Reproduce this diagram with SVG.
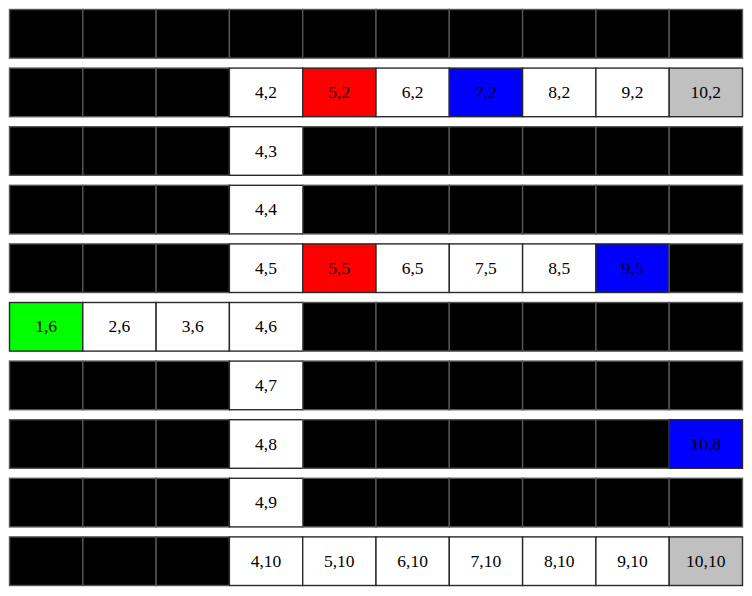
<svg xmlns="http://www.w3.org/2000/svg" width="752" height="596" viewBox="0 0 752 596">
<style>
rect{stroke-width:1.4}
.k{fill:#000;stroke:#555}
.w{fill:#fff;stroke:#2a2a2a}
.r{fill:#f00;stroke:#2a2a2a}
.b{fill:#00f;stroke:#2a2a2a}
.g{fill:#c0c0c0;stroke:#2a2a2a}
.l{fill:#0f0;stroke:#2a2a2a}
text{font-family:"Liberation Serif",serif;font-size:17.5px;text-anchor:middle;fill:#000}
</style>
<rect x="0" y="0" width="752" height="596" fill="#fff" stroke="none"/>
<g id="row1">
<g id="c1_1"><rect class="k" x="9.5" y="9.5" width="73.3" height="48.6"/></g>
<g id="c2_1"><rect class="k" x="82.8" y="9.5" width="73.3" height="48.6"/></g>
<g id="c3_1"><rect class="k" x="156.1" y="9.5" width="73.3" height="48.6"/></g>
<g id="c4_1"><rect class="k" x="229.4" y="9.5" width="73.3" height="48.6"/></g>
<g id="c5_1"><rect class="k" x="302.7" y="9.5" width="73.3" height="48.6"/></g>
<g id="c6_1"><rect class="k" x="376" y="9.5" width="73.3" height="48.6"/></g>
<g id="c7_1"><rect class="k" x="449.3" y="9.5" width="73.3" height="48.6"/></g>
<g id="c8_1"><rect class="k" x="522.6" y="9.5" width="73.3" height="48.6"/></g>
<g id="c9_1"><rect class="k" x="595.9" y="9.5" width="73.3" height="48.6"/></g>
<g id="c10_1"><rect class="k" x="669.2" y="9.5" width="73.3" height="48.6"/></g>
</g>
<g id="row2">
<g id="c1_2"><rect class="k" x="9.5" y="68.1" width="73.3" height="48.6"/></g>
<g id="c2_2"><rect class="k" x="82.8" y="68.1" width="73.3" height="48.6"/></g>
<g id="c3_2"><rect class="k" x="156.1" y="68.1" width="73.3" height="48.6"/></g>
<g id="c4_2"><rect class="w" x="229.4" y="68.1" width="73.3" height="48.6"/><text x="266" y="98">4,2</text></g>
<g id="c5_2"><rect class="r" x="302.7" y="68.1" width="73.3" height="48.6"/><text x="339.3" y="98">5,2</text></g>
<g id="c6_2"><rect class="w" x="376" y="68.1" width="73.3" height="48.6"/><text x="412.6" y="98">6,2</text></g>
<g id="c7_2"><rect class="b" x="449.3" y="68.1" width="73.3" height="48.6"/><text x="485.9" y="98">7,2</text></g>
<g id="c8_2"><rect class="w" x="522.6" y="68.1" width="73.3" height="48.6"/><text x="559.2" y="98">8,2</text></g>
<g id="c9_2"><rect class="w" x="595.9" y="68.1" width="73.3" height="48.6"/><text x="632.5" y="98">9,2</text></g>
<g id="c10_2"><rect class="g" x="669.2" y="68.1" width="73.3" height="48.6"/><text x="705.8" y="98">10,2</text></g>
</g>
<g id="row3">
<g id="c1_3"><rect class="k" x="9.5" y="126.7" width="73.3" height="48.6"/></g>
<g id="c2_3"><rect class="k" x="82.8" y="126.7" width="73.3" height="48.6"/></g>
<g id="c3_3"><rect class="k" x="156.1" y="126.7" width="73.3" height="48.6"/></g>
<g id="c4_3"><rect class="w" x="229.4" y="126.7" width="73.3" height="48.6"/><text x="266" y="156.6">4,3</text></g>
<g id="c5_3"><rect class="k" x="302.7" y="126.7" width="73.3" height="48.6"/></g>
<g id="c6_3"><rect class="k" x="376" y="126.7" width="73.3" height="48.6"/></g>
<g id="c7_3"><rect class="k" x="449.3" y="126.7" width="73.3" height="48.6"/></g>
<g id="c8_3"><rect class="k" x="522.6" y="126.7" width="73.3" height="48.6"/></g>
<g id="c9_3"><rect class="k" x="595.9" y="126.7" width="73.3" height="48.6"/></g>
<g id="c10_3"><rect class="k" x="669.2" y="126.7" width="73.3" height="48.6"/></g>
</g>
<g id="row4">
<g id="c1_4"><rect class="k" x="9.5" y="185.3" width="73.3" height="48.6"/></g>
<g id="c2_4"><rect class="k" x="82.8" y="185.3" width="73.3" height="48.6"/></g>
<g id="c3_4"><rect class="k" x="156.1" y="185.3" width="73.3" height="48.6"/></g>
<g id="c4_4"><rect class="w" x="229.4" y="185.3" width="73.3" height="48.6"/><text x="266" y="215.2">4,4</text></g>
<g id="c5_4"><rect class="k" x="302.7" y="185.3" width="73.3" height="48.6"/></g>
<g id="c6_4"><rect class="k" x="376" y="185.3" width="73.3" height="48.6"/></g>
<g id="c7_4"><rect class="k" x="449.3" y="185.3" width="73.3" height="48.6"/></g>
<g id="c8_4"><rect class="k" x="522.6" y="185.3" width="73.3" height="48.6"/></g>
<g id="c9_4"><rect class="k" x="595.9" y="185.3" width="73.3" height="48.6"/></g>
<g id="c10_4"><rect class="k" x="669.2" y="185.3" width="73.3" height="48.6"/></g>
</g>
<g id="row5">
<g id="c1_5"><rect class="k" x="9.5" y="243.9" width="73.3" height="48.6"/></g>
<g id="c2_5"><rect class="k" x="82.8" y="243.9" width="73.3" height="48.6"/></g>
<g id="c3_5"><rect class="k" x="156.1" y="243.9" width="73.3" height="48.6"/></g>
<g id="c4_5"><rect class="w" x="229.4" y="243.9" width="73.3" height="48.6"/><text x="266" y="273.8">4,5</text></g>
<g id="c5_5"><rect class="r" x="302.7" y="243.9" width="73.3" height="48.6"/><text x="339.3" y="273.8">5,5</text></g>
<g id="c6_5"><rect class="w" x="376" y="243.9" width="73.3" height="48.6"/><text x="412.6" y="273.8">6,5</text></g>
<g id="c7_5"><rect class="w" x="449.3" y="243.9" width="73.3" height="48.6"/><text x="485.9" y="273.8">7,5</text></g>
<g id="c8_5"><rect class="w" x="522.6" y="243.9" width="73.3" height="48.6"/><text x="559.2" y="273.8">8,5</text></g>
<g id="c9_5"><rect class="b" x="595.9" y="243.9" width="73.3" height="48.6"/><text x="632.5" y="273.8">9,5</text></g>
<g id="c10_5"><rect class="k" x="669.2" y="243.9" width="73.3" height="48.6"/></g>
</g>
<g id="row6">
<g id="c1_6"><rect class="l" x="9.5" y="302.5" width="73.3" height="48.6"/><text x="46.1" y="332.4">1,6</text></g>
<g id="c2_6"><rect class="w" x="82.8" y="302.5" width="73.3" height="48.6"/><text x="119.4" y="332.4">2,6</text></g>
<g id="c3_6"><rect class="w" x="156.1" y="302.5" width="73.3" height="48.6"/><text x="192.7" y="332.4">3,6</text></g>
<g id="c4_6"><rect class="w" x="229.4" y="302.5" width="73.3" height="48.6"/><text x="266" y="332.4">4,6</text></g>
<g id="c5_6"><rect class="k" x="302.7" y="302.5" width="73.3" height="48.6"/></g>
<g id="c6_6"><rect class="k" x="376" y="302.5" width="73.3" height="48.6"/></g>
<g id="c7_6"><rect class="k" x="449.3" y="302.5" width="73.3" height="48.6"/></g>
<g id="c8_6"><rect class="k" x="522.6" y="302.5" width="73.3" height="48.6"/></g>
<g id="c9_6"><rect class="k" x="595.9" y="302.5" width="73.3" height="48.6"/></g>
<g id="c10_6"><rect class="k" x="669.2" y="302.5" width="73.3" height="48.6"/></g>
</g>
<g id="row7">
<g id="c1_7"><rect class="k" x="9.5" y="361.1" width="73.3" height="48.6"/></g>
<g id="c2_7"><rect class="k" x="82.8" y="361.1" width="73.3" height="48.6"/></g>
<g id="c3_7"><rect class="k" x="156.1" y="361.1" width="73.3" height="48.6"/></g>
<g id="c4_7"><rect class="w" x="229.4" y="361.1" width="73.3" height="48.6"/><text x="266" y="391">4,7</text></g>
<g id="c5_7"><rect class="k" x="302.7" y="361.1" width="73.3" height="48.6"/></g>
<g id="c6_7"><rect class="k" x="376" y="361.1" width="73.3" height="48.6"/></g>
<g id="c7_7"><rect class="k" x="449.3" y="361.1" width="73.3" height="48.6"/></g>
<g id="c8_7"><rect class="k" x="522.6" y="361.1" width="73.3" height="48.6"/></g>
<g id="c9_7"><rect class="k" x="595.9" y="361.1" width="73.3" height="48.6"/></g>
<g id="c10_7"><rect class="k" x="669.2" y="361.1" width="73.3" height="48.6"/></g>
</g>
<g id="row8">
<g id="c1_8"><rect class="k" x="9.5" y="419.7" width="73.3" height="48.6"/></g>
<g id="c2_8"><rect class="k" x="82.8" y="419.7" width="73.3" height="48.6"/></g>
<g id="c3_8"><rect class="k" x="156.1" y="419.7" width="73.3" height="48.6"/></g>
<g id="c4_8"><rect class="w" x="229.4" y="419.7" width="73.3" height="48.6"/><text x="266" y="449.6">4,8</text></g>
<g id="c5_8"><rect class="k" x="302.7" y="419.7" width="73.3" height="48.6"/></g>
<g id="c6_8"><rect class="k" x="376" y="419.7" width="73.3" height="48.6"/></g>
<g id="c7_8"><rect class="k" x="449.3" y="419.7" width="73.3" height="48.6"/></g>
<g id="c8_8"><rect class="k" x="522.6" y="419.7" width="73.3" height="48.6"/></g>
<g id="c9_8"><rect class="k" x="595.9" y="419.7" width="73.3" height="48.6"/></g>
<g id="c10_8"><rect class="b" x="669.2" y="419.7" width="73.3" height="48.6"/><text x="705.8" y="449.6">10,8</text></g>
</g>
<g id="row9">
<g id="c1_9"><rect class="k" x="9.5" y="478.3" width="73.3" height="48.6"/></g>
<g id="c2_9"><rect class="k" x="82.8" y="478.3" width="73.3" height="48.6"/></g>
<g id="c3_9"><rect class="k" x="156.1" y="478.3" width="73.3" height="48.6"/></g>
<g id="c4_9"><rect class="w" x="229.4" y="478.3" width="73.3" height="48.6"/><text x="266" y="508.2">4,9</text></g>
<g id="c5_9"><rect class="k" x="302.7" y="478.3" width="73.3" height="48.6"/></g>
<g id="c6_9"><rect class="k" x="376" y="478.3" width="73.3" height="48.6"/></g>
<g id="c7_9"><rect class="k" x="449.3" y="478.3" width="73.3" height="48.6"/></g>
<g id="c8_9"><rect class="k" x="522.6" y="478.3" width="73.3" height="48.6"/></g>
<g id="c9_9"><rect class="k" x="595.9" y="478.3" width="73.3" height="48.6"/></g>
<g id="c10_9"><rect class="k" x="669.2" y="478.3" width="73.3" height="48.6"/></g>
</g>
<g id="row10">
<g id="c1_10"><rect class="k" x="9.5" y="536.9" width="73.3" height="48.6"/></g>
<g id="c2_10"><rect class="k" x="82.8" y="536.9" width="73.3" height="48.6"/></g>
<g id="c3_10"><rect class="k" x="156.1" y="536.9" width="73.3" height="48.6"/></g>
<g id="c4_10"><rect class="w" x="229.4" y="536.9" width="73.3" height="48.6"/><text x="266" y="566.8">4,10</text></g>
<g id="c5_10"><rect class="w" x="302.7" y="536.9" width="73.3" height="48.6"/><text x="339.3" y="566.8">5,10</text></g>
<g id="c6_10"><rect class="w" x="376" y="536.9" width="73.3" height="48.6"/><text x="412.6" y="566.8">6,10</text></g>
<g id="c7_10"><rect class="w" x="449.3" y="536.9" width="73.3" height="48.6"/><text x="485.9" y="566.8">7,10</text></g>
<g id="c8_10"><rect class="w" x="522.6" y="536.9" width="73.3" height="48.6"/><text x="559.2" y="566.8">8,10</text></g>
<g id="c9_10"><rect class="w" x="595.9" y="536.9" width="73.3" height="48.6"/><text x="632.5" y="566.8">9,10</text></g>
<g id="c10_10"><rect class="g" x="669.2" y="536.9" width="73.3" height="48.6"/><text x="705.8" y="566.8">10,10</text></g>
</g>
<g id="connectors"></g>
</svg>
